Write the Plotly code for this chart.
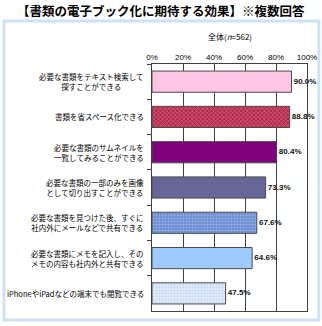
import plotly.graph_objects as go

categories = [
    "必要な書類をテキスト検索して<br>探すことができる",
    "書類を省スペース化できる",
    "必要な書類のサムネイルを<br>一覧してみることができる",
    "必要な書類の一部のみを画像<br>として切り出すことができる",
    "必要な書類を見つけた後、すぐに<br>社内外にメールなどで共有できる",
    "必要な書類にメモを記入し、その<br>メモの内容も社内外と共有できる",
    "iPhoneやiPadなどの端末でも閲覧できる",
]
values = [90.0, 88.8, 80.4, 73.3, 67.6, 64.6, 47.5]
tick_vals = [0, 20, 40, 60, 80, 100]
tick_text = ["0%", "20%", "40%", "60%", "80%", "100%"]

fill_colors = ["#ffc6e4", "#d24a6c", "#800080", "#666699", "#6a8bd0", "#9dcbff", "#e2edfb"]
pattern_shapes = ["", "x", "", "", ".", "", "."]
pattern_fg = ["#ffc6e4", "#8a1836", "#800080", "#666699", "#9ab3e6", "#9dcbff", "#c2d7f1"]

FONT = "Noto Sans CJK JP"

fig = go.Figure()
for cat, val, col, shp, fg in zip(categories, values, fill_colors, pattern_shapes, pattern_fg):
    marker = dict(color=col, line=dict(color="#4a4a4a", width=1))
    if shp:
        marker["pattern"] = dict(shape=shp, fgcolor=fg, bgcolor=col, size=3,
                                 solidity=0.4, fillmode="replace")
    fig.add_trace(go.Bar(x=[val], y=[cat], orientation="h", marker=marker,
                         hoverinfo="skip", showlegend=False))

fig.add_trace(go.Scatter(
    x=values, y=categories, mode="text",
    text=[f" {v:.1f}%" for v in values],
    textposition="middle right",
    textfont=dict(family="Liberation Sans", size=8, color="#111111", weight="bold"),
    cliponaxis=False, hoverinfo="skip", showlegend=False,
))

cat_annotations = [
    dict(text=c, xref="paper", yref="y", x=-0.04, y=c, xanchor="right", yanchor="middle",
         align="center", showarrow=False,
         font=dict(family=FONT, size=7.5, color="#000000"))
    for c in categories
]

fig.update_layout(
    width=322, height=326,
    margin=dict(l=152, r=15, t=64, b=15),
    paper_bgcolor="white", plot_bgcolor="white",
    showlegend=False, bargap=0.4, barmode="overlay",
    font=dict(family=FONT, size=8, color="#000000"),
    xaxis=dict(
        range=[0, 100], side="top", tickvals=tick_vals, ticktext=tick_text,
        showgrid=True, gridcolor="#404040", gridwidth=1,
        showline=True, linecolor="#404040", linewidth=1, mirror=True,
        zeroline=False, ticks="", tickfont=dict(size=8, family="Liberation Sans"),
        fixedrange=True, automargin=False,
    ),
    yaxis=dict(
        type="category", autorange="reversed", showticklabels=False,
        categoryorder="array", categoryarray=categories,
        showline=True, linecolor="#404040", linewidth=1, mirror=True,
        ticks="outside", ticklen=4, tickcolor="#404040", tickson="boundaries",
        showgrid=False, fixedrange=True, automargin=False,
    ),
    shapes=[dict(
        type="rect", xref="paper", yref="paper",
        x0=-0.955, x1=1.077, y0=-0.036, y1=1.174,
        line=dict(color="#cde2f7", width=3), fillcolor="rgba(0,0,0,0)", layer="below",
    )],
    annotations=cat_annotations + [
        dict(text="<b>【書類の電子ブック化に期待する効果】※複数回答</b>",
             xref="paper", yref="paper", x=0.058, y=1.215, xanchor="center", yanchor="middle",
             showarrow=False, font=dict(family=FONT, size=12.5, color="#000000")),
        dict(text="全体(<i>n</i>=562)",
             xref="paper", yref="paper", x=0.5, y=1.11, xanchor="center", yanchor="middle",
             showarrow=False, font=dict(family=FONT, size=8, color="#000000")),
    ],
)

fig.write_html("out.html")
